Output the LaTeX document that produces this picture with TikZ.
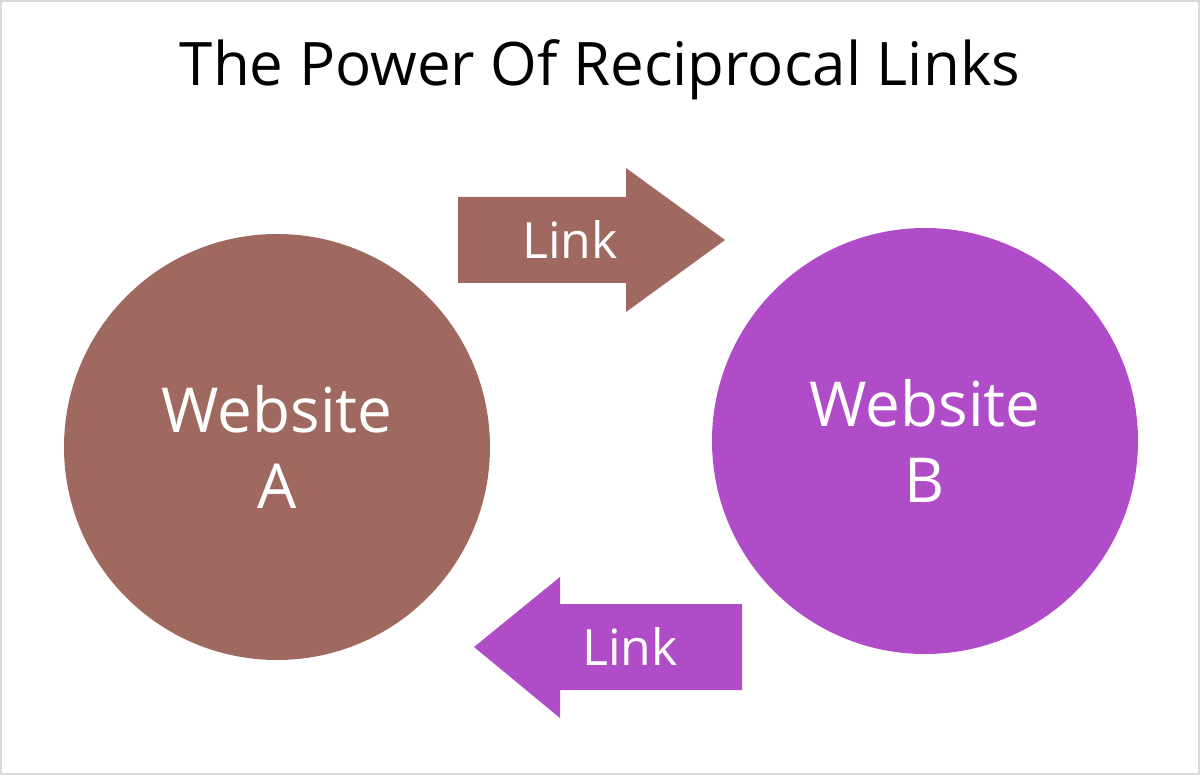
\documentclass[tikz,border=0pt]{standalone}
\usepackage{fontspec}
\setmainfont{Open Sans}
\definecolor{brownA}{HTML}{A0695F}
\definecolor{purpB}{HTML}{B04CC8}
\begin{document}
\begin{tikzpicture}[x=1pt,y=-1pt,
  site/.style={circle,minimum size=426pt,inner sep=0pt,text=white,font=\fontsize{62}{76}\selectfont,align=center},
  lbl/.style={text=white,font=\fontsize{50}{60}\selectfont}]
\useasboundingbox (0,0) rectangle (1200,775);
\draw[gray!30,line width=2pt] (1,1) rectangle (1199,774);
\node[font=\fontsize{60}{72}\selectfont] (title) at (600,70) {The Power Of Reciprocal Links};
\node[site,fill=brownA] (A) at (277,447) {Website\\A};
\node[site,fill=purpB] (B) at (925,441) {Website\\B};
\fill[brownA] (458,197) -- (626,197) -- (626,168) -- (725,240) -- (626,312) -- (626,283) -- (458,283) -- cycle;
\node[lbl] (l1) at (570,240) {Link};
\fill[purpB] (742,604) -- (560,604) -- (560,577) -- (474,647) -- (560,718) -- (560,690) -- (742,690) -- cycle;
\node[lbl] (l2) at (630,647) {Link};
\end{tikzpicture}
\end{document}
